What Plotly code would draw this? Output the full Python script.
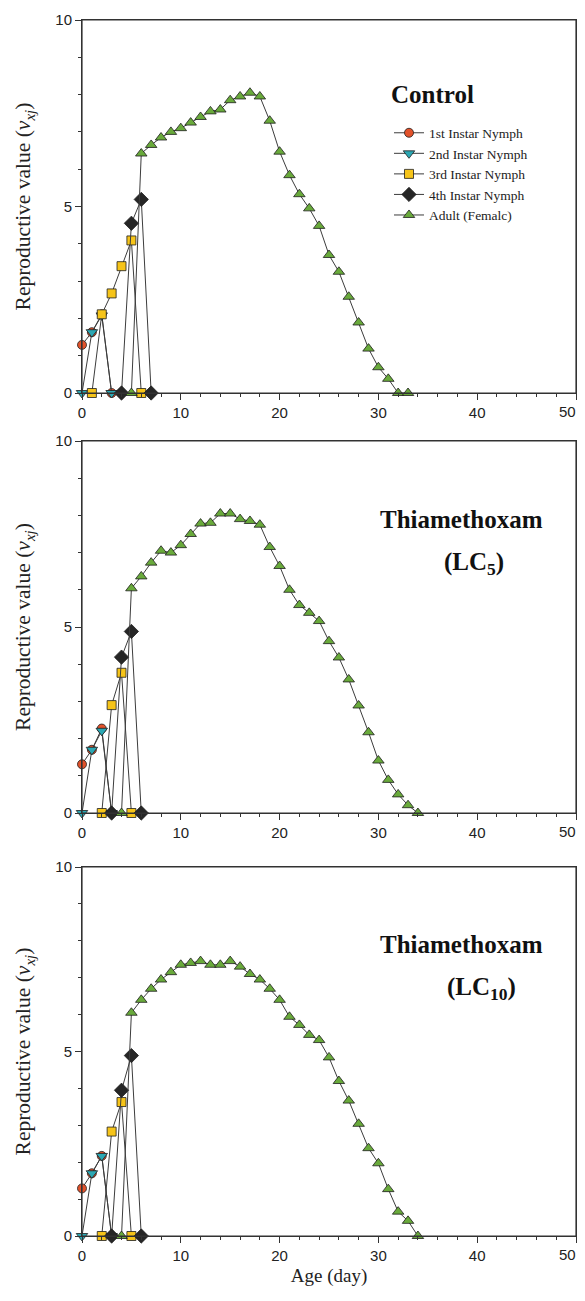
import plotly.graph_objects as go

# ---------------- data ----------------
series_names = ["1st Instar Nymph", "2nd Instar Nymph", "3rd Instar Nymph",
                "4th Instar Nymph", "Adult (Femalc)"]

# Control
ctrl_n1_day = [0, 1, 2, 3]
ctrl_n1_val = [1.29, 1.63, 2.11, 0]
ctrl_n2_day = [0, 1, 2, 3]
ctrl_n2_val = [0, 1.63, 2.08, 0]
ctrl_n3_day = [1, 2, 3, 4, 5, 6]
ctrl_n3_val = [0, 2.11, 2.67, 3.40, 4.09, 0]
ctrl_n4_day = [4, 5, 6, 7]
ctrl_n4_val = [0, 4.55, 5.19, 0]
ctrl_ad_day = list(range(5, 34))
ctrl_ad_val = [0, 6.42, 6.65, 6.85, 7.0, 7.1, 7.25, 7.4, 7.55, 7.6, 7.85, 7.95, 8.05,
               7.95, 7.3, 6.47, 5.84, 5.33, 4.95, 4.48, 3.70, 3.25, 2.58, 1.89, 1.19,
               0.69, 0.38, 0, 0]

# Thiamethoxam LC5
lc5_n1_day = [0, 1, 2, 3]
lc5_n1_val = [1.31, 1.70, 2.27, 0]
lc5_n2_day = [0, 1, 2, 3]
lc5_n2_val = [0, 1.70, 2.21, 0]
lc5_n3_day = [2, 3, 4, 5]
lc5_n3_val = [0, 2.90, 3.77, 0]
lc5_n4_day = [3, 4, 5, 6]
lc5_n4_val = [0, 4.19, 4.88, 0]
lc5_ad_day = list(range(4, 35))
lc5_ad_val = [0, 6.04, 6.36, 6.73, 7.05, 7.0, 7.2, 7.5, 7.78, 7.8, 8.05, 8.05, 7.9,
              7.85, 7.75, 7.15, 6.64, 6.0, 5.59, 5.38, 5.16, 4.62, 4.18, 3.59, 2.89,
              2.17, 1.41, 0.89, 0.50, 0.21, 0]

# Thiamethoxam LC10
lc10_n1_day = [0, 1, 2, 3]
lc10_n1_val = [1.29, 1.70, 2.17, 0]
lc10_n2_day = [0, 1, 2, 3]
lc10_n2_val = [0, 1.70, 2.17, 0]
lc10_n3_day = [2, 3, 4, 5]
lc10_n3_val = [0, 2.83, 3.63, 0]
lc10_n4_day = [3, 4, 5, 6]
lc10_n4_val = [0, 3.95, 4.89, 0]
lc10_ad_day = list(range(4, 35))
lc10_ad_val = [0, 6.05, 6.4, 6.7, 6.95, 7.15, 7.35, 7.4, 7.45, 7.35, 7.35, 7.45, 7.3,
               7.1, 6.95, 6.7, 6.4, 5.94, 5.72, 5.45, 5.31, 4.84, 4.20, 3.67, 3.04,
               2.38, 1.97, 1.27, 0.66, 0.41, 0]

x_ticks = [0, 10, 20, 30, 40, 50]
x_tick_text = ["0", "10", "20", "30", "40", ""]   # last label drawn separately (kept inside edge)
x_last_label = "50"
y_ticks = [0, 5, 10]

# ---------------- styling ----------------
marker_styles = [
    dict(symbol="circle", size=9, color="#E2522B"),
    dict(symbol="triangle-down", size=10, color="#2BA7B3"),
    dict(symbol="square", size=9, color="#F6C419"),
    dict(symbol="diamond", size=11, color="#262626"),
    dict(symbol="triangle-up", size=10, color="#69AA3B"),
]

panels = [
    [(ctrl_n1_day, ctrl_n1_val), (ctrl_n2_day, ctrl_n2_val), (ctrl_n3_day, ctrl_n3_val),
     (ctrl_n4_day, ctrl_n4_val), (ctrl_ad_day, ctrl_ad_val)],
    [(lc5_n1_day, lc5_n1_val), (lc5_n2_day, lc5_n2_val), (lc5_n3_day, lc5_n3_val),
     (lc5_n4_day, lc5_n4_val), (lc5_ad_day, lc5_ad_val)],
    [(lc10_n1_day, lc10_n1_val), (lc10_n2_day, lc10_n2_val), (lc10_n3_day, lc10_n3_val),
     (lc10_n4_day, lc10_n4_val), (lc10_ad_day, lc10_ad_val)],
]

# page offset (default body margin of the html page)
OFF = 8
W, H = 585 - OFF, 1301 - 2 * OFF - 6
plot_left, plot_right = 82 - OFF, 576 - OFF
plot_top, plot_bottom = 20 - OFF, 1236 - OFF
ml, mr, mt, mb = plot_left, W - plot_right, plot_top, H - plot_bottom
ph = H - mt - mb
pw = W - ml - mr
panel_px = [(20, 393), (441, 813), (867, 1236)]
domains = [[(plot_bottom - (b - OFF)) / ph, (plot_bottom - (t - OFF)) / ph] for t, b in panel_px]

tickfont = dict(family="Liberation Sans, Arial", size=15, color="#222")
serif = "Liberation Serif, Times New Roman"

fig = go.Figure()
for p, data in enumerate(panels):
    xa = "x" if p == 0 else f"x{p+1}"
    ya = "y" if p == 0 else f"y{p+1}"
    for i, (dx, dy) in enumerate(data):
        ms = marker_styles[i]
        fig.add_trace(go.Scatter(
            x=dx, y=dy, mode="lines+markers", name=series_names[i],
            xaxis=xa, yaxis=ya, showlegend=(p == 0), cliponaxis=False,
            line=dict(color="#3c3c3c", width=1),
            marker=dict(symbol=ms["symbol"], size=ms["size"], color=ms["color"],
                        line=dict(color="#1e1e1e", width=0.8)),
        ))
    # frame around each panel
    fig.add_shape(type="rect", xref=f"{xa} domain", yref=f"{ya} domain",
                  x0=0, x1=1, y0=0, y1=1, line=dict(color="#333", width=1.2),
                  fillcolor="rgba(0,0,0,0)", layer="above")
    # last x tick label, right-aligned so it stays inside the page
    fig.add_annotation(xref=xa, yref=f"{ya} domain", x=x_ticks[-1], y=0, text=x_last_label,
                       showarrow=False, font=tickfont, xanchor="right", yanchor="top",
                       xshift=2, yshift=-8)

layout = dict(
    width=W, height=H,
    margin=dict(l=ml, r=mr, t=mt, b=mb, autoexpand=False),
    paper_bgcolor="white", plot_bgcolor="white",
    showlegend=True,
    legend=dict(x=(389 - OFF - ml) / pw, y=(plot_bottom - (174 - OFF)) / ph,
                xanchor="left", yanchor="middle",
                font=dict(family=serif, size=13.5, color="#222"),
                bgcolor="rgba(0,0,0,0)", tracegroupgap=0, itemwidth=30),
)
for p in range(3):
    sx = "" if p == 0 else str(p + 1)
    layout["xaxis" + sx] = dict(
        domain=[0, 1], anchor="y" + sx, range=[0, 50], tickvals=x_ticks, ticktext=x_tick_text,
        showline=True, linecolor="#333", linewidth=1, mirror=True,
        ticks="outside", ticklen=6, tickcolor="#333", tickwidth=1,
        minor=dict(dtick=2, ticks="outside", ticklen=3, tickcolor="#333"),
        showgrid=False, zeroline=False, tickfont=tickfont,
        automargin=False, ticklabeloverflow="allow",
    )
    layout["yaxis" + sx] = dict(
        domain=domains[p], anchor="x" + sx, range=[0, 10], tickvals=y_ticks,
        showline=True, linecolor="#333", linewidth=1, mirror=True,
        ticks="outside", ticklen=6, tickcolor="#333", tickwidth=1,
        minor=dict(dtick=1, ticks="outside", ticklen=3, tickcolor="#333"),
        showgrid=False, zeroline=False, tickfont=tickfont,
        automargin=False, ticklabeloverflow="allow",
        title=dict(text="Reproductive value (<i>v</i><sub><i>xj</i></sub>)",
                   font=dict(family=serif, size=21.5, color="#222"), standoff=18),
    )
layout["xaxis3"]["title"] = dict(text="Age (day)", font=dict(family=serif, size=19, color="#222"),
                                 standoff=11)
fig.update_layout(**layout)

title_font = dict(family=serif, size=25, color="#111")
ann = [
    dict(xref="x", yref="y", x=35.5, y=8.0, text="<b>Control</b>"),
    dict(xref="x2", yref="y2", x=38.4, y=7.9, text="<b>Thiamethoxam</b>"),
    dict(xref="x2", yref="y2", x=39.7, y=6.7, text="<b>(LC<sub>5</sub>)</b>"),
    dict(xref="x3", yref="y3", x=38.4, y=7.9, text="<b>Thiamethoxam</b>"),
    dict(xref="x3", yref="y3", x=40.4, y=6.7, text="<b>(LC<sub>10</sub>)</b>"),
]
for a in ann:
    fig.add_annotation(**a, showarrow=False, font=title_font, xanchor="center", yanchor="middle")

fig.write_html("out.html")
